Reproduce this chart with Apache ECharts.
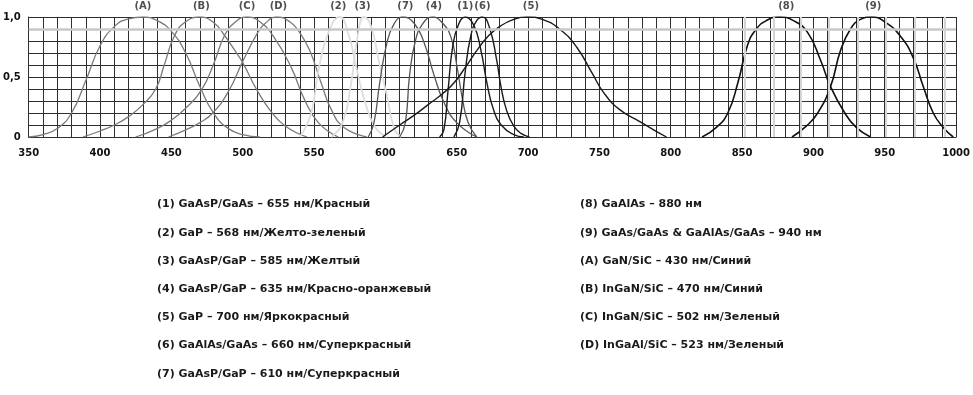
<!DOCTYPE html>
<html>
<head>
<meta charset="utf-8">
<script src="https://cdn.jsdelivr.net/npm/echarts@6/dist/echarts.min.js"></script>
<style>
  html, body { margin: 0; padding: 0; background: #fff; }
  #chart_led { width: 973px; height: 395px; }
</style>
</head>
<body>
<div id="chart_led"></div>
<script>
/**
 * LED spectra
 */
var xTicks = [350, 400, 450, 500, 550, 600, 650, 700, 750, 800, 850, 900, 950, 1000];
var yTicks = { 0: '0', 0.5: '0,5', 1: '1,0' };

// spectral curves, [wavelength nm, relative intensity]
var curveA = [[350,0],[360,0.02],[370,0.07],[380,0.2],[390,0.47],[400,0.76],[410,0.92],[420,0.985],[430,1.0],[440,0.97],[450,0.88],[460,0.7],[470,0.42],[480,0.19],[490,0.07],[500,0.02],[512,0]];
var curveB = [[388,0],[400,0.05],[410,0.1],[420,0.17],[430,0.27],[439,0.4],[445,0.6],[452,0.84],[460,0.96],[470,1.0],[480,0.95],[487,0.85],[494,0.73],[500,0.62],[510,0.39],[520,0.21],[530,0.09],[545,0]];
var curveC = [[425,0],[440,0.07],[450,0.14],[460,0.24],[471,0.39],[480,0.62],[487,0.84],[495,0.96],[503,1.0],[512,0.96],[522,0.83],[534,0.58],[543,0.32],[553,0.12],[567,0]];
var curveD = [[448,0],[460,0.06],[470,0.12],[479,0.2],[490,0.38],[500,0.63],[510,0.86],[516,0.95],[524,1.0],[533,0.96],[540,0.87],[547,0.72],[555,0.45],[562,0.23],[571,0.08],[587,0]];
var curve2 = [[540,0],[548,0.2],[553,0.55],[560,0.87],[568,1.0],[574,0.86],[580,0.56],[586,0.28],[593,0.08],[601,0]];
var curve3 = [[562,0],[570,0.12],[576,0.45],[580,0.8],[585,1.0],[590,0.92],[596,0.6],[601,0.35],[606,0.08],[611,0]];
var curve7 = [[588,0],[592,0.12],[596,0.45],[601,0.78],[606,0.94],[612,1.0],[620,0.95],[627,0.79],[634,0.52],[641,0.29],[650,0.12],[664,0]];
var curve4 = [[610,0],[614,0.12],[617,0.52],[621,0.8],[626,0.94],[633,1.0],[640,0.95],[646,0.83],[650,0.6],[654,0.32],[658,0.12],[664,0]];
var curve1 = [[638,0],[641,0.06],[644,0.4],[647,0.74],[651,0.93],[656,1.0],[662,0.93],[667,0.72],[671,0.46],[676,0.22],[682,0.09],[690,0.02],[697,0]];
var curve6 = [[648,0],[652,0.12],[656,0.55],[660,0.85],[664,0.97],[668,1.0],[673,0.91],[678,0.64],[681,0.42],[685,0.22],[690,0.09],[695,0.03],[701,0]];
var curve5 = [[598,0],[610,0.1],[620,0.18],[630,0.27],[640,0.36],[648,0.45],[656,0.58],[664,0.72],[672,0.84],[680,0.92],[690,0.98],[700,1.0],[710,0.98],[722,0.9],[734,0.75],[745,0.53],[753,0.37],[764,0.23],[778,0.13],[788,0.06],[797,0]];
var curve8 = [[822,0],[832,0.08],[840,0.2],[847,0.45],[854,0.77],[860,0.9],[867,0.97],[876,1.0],[886,0.97],[896,0.87],[905,0.64],[912,0.42],[922,0.2],[930,0.08],[940,0]];
var curve9 = [[885,0],[895,0.09],[903,0.2],[912,0.42],[919,0.72],[926,0.9],[933,0.98],[941,1.0],[950,0.96],[961,0.84],[970,0.66],[977,0.42],[984,0.2],[991,0.08],[998,0]];

var peakNames = ['(A)', '(B)', '(C)', '(D)', '(2)', '(3)', '(7)', '(4)', '(1)', '(6)', '(5)', '(8)', '(9)'];
var peakX = [430, 471, 503, 525, 567, 584, 614, 634, 656, 668, 702, 881, 942];

var bandX = [852, 872, 891, 911, 931, 951, 971, 992];

var legendLeft = [
    '(1) GaAsP/GaAs – 655 нм/Красный',
    '(2) GaP – 568 нм/Желто-зеленый',
    '(3) GaAsP/GaP – 585 нм/Желтый',
    '(4) GaAsP/GaP – 635 нм/Красно-оранжевый',
    '(5) GaP – 700 нм/Яркокрасный',
    '(6) GaAlAs/GaAs – 660 нм/Суперкрасный',
    '(7) GaAsP/GaP – 610 нм/Суперкрасный'
];
var legendRight = [
    '(8) GaAlAs – 880 нм',
    '(9) GaAs/GaAs & GaAlAs/GaAs – 940 нм',
    '(A) GaN/SiC – 430 нм/Синий',
    '(B) InGaN/SiC – 470 нм/Синий',
    '(C) InGaN/SiC – 502 нм/Зеленый',
    '(D) InGaAl/SiC – 523 нм/Зеленый'
];

var FONT = 'DejaVu Sans';

function curve(name, data, color, width) {
    return {
        name: name,
        type: 'line',
        data: data,
        smooth: 0.5,
        showSymbol: false,
        lineStyle: { color: color, width: width },
        z: 3
    };
}

var legendGraphics = [];
legendLeft.forEach(function (t, i) {
    legendGraphics.push({
        type: 'text', left: 157, top: 199 + i * 28.2,
        style: { text: t, font: 'bold 11px "' + FONT + '"', fill: '#1a1a1a' }
    });
});
legendRight.forEach(function (t, i) {
    legendGraphics.push({
        type: 'text', left: 580, top: 199 + i * 28.2,
        style: { text: t, font: 'bold 11px "' + FONT + '"', fill: '#1a1a1a' }
    });
});

var chart_led = echarts.init(document.getElementById('chart_led'));

var chart_led_option = {
    backgroundColor: '#fff',
    animation: false,
    grid: { left: 26, right: 14, top: 17, bottom: 258 },
    xAxis: {
        type: 'value',
        min: 350,
        max: 1000,
        interval: 10,
        axisLine: { show: true, lineStyle: { color: '#2e2e2e', width: 1 } },
        axisTick: { show: false },
        splitLine: { show: true, lineStyle: { color: '#2e2e2e', width: 1 } },
        axisLabel: {
            margin: 11,
            color: '#111',
            fontFamily: FONT,
            fontWeight: 'bold',
            fontSize: 10,
            showMaxLabel: true,
            formatter: function (v) {
                return xTicks.indexOf(v) >= 0 ? String(v) : '';
            }
        }
    },
    yAxis: {
        type: 'value',
        min: 0,
        max: 1,
        interval: 0.1,
        axisLine: { show: true, lineStyle: { color: '#2e2e2e', width: 1 } },
        axisTick: { show: false },
        splitLine: { show: true, lineStyle: { color: '#2e2e2e', width: 1 } },
        axisLabel: {
            margin: 8,
            color: '#111',
            fontFamily: FONT,
            fontWeight: 'bold',
            fontSize: 10,
            formatter: function (v) {
                var k = Math.round(v * 10) / 10;
                return yTicks[k] !== undefined ? yTicks[k] : '';
            }
        }
    },
    graphic: legendGraphics,
    series: [
        {
            name: 'ref',
            type: 'line',
            data: [],
            z: 2,
            markLine: {
                silent: true,
                symbol: 'none',
                label: { show: false },
                data: [{ yAxis: 0.9, lineStyle: { color: '#c8c8c8', width: 2.5, type: 'solid' } }]
                    .concat(bandX.map(function (x) {
                        return { xAxis: x, lineStyle: { color: '#d4d4d4', width: 2, type: 'solid' } };
                    }))
            }
        },
        curve('A', curveA, '#7a7a7a', 1.3),
        curve('B', curveB, '#7a7a7a', 1.3),
        curve('C', curveC, '#7a7a7a', 1.3),
        curve('D', curveD, '#7a7a7a', 1.3),
        curve('2', curve2, '#dedede', 1.8),
        curve('3', curve3, '#dedede', 1.8),
        curve('7', curve7, '#555', 1.3),
        curve('4', curve4, '#555', 1.3),
        curve('5', curve5, '#1a1a1a', 1.4),
        curve('1', curve1, '#1a1a1a', 1.4),
        curve('6', curve6, '#1a1a1a', 1.4),
        curve('8', curve8, '#111', 1.6),
        curve('9', curve9, '#111', 1.6),
        {
            name: 'peaks',
            type: 'scatter',
            symbolSize: 0,
            silent: true,
            data: peakX.map(function (x, i) { return { name: peakNames[i], value: [x, 1] }; }),
            label: {
                show: true,
                position: 'top',
                distance: 6,
                formatter: '{b}',
                color: '#222',
                fontFamily: FONT,
                fontWeight: 'bold',
                fontSize: 10
            },
            z: 5
        }
    ]
};
chart_led.setOption(chart_led_option);
</script>
</body>
</html>
